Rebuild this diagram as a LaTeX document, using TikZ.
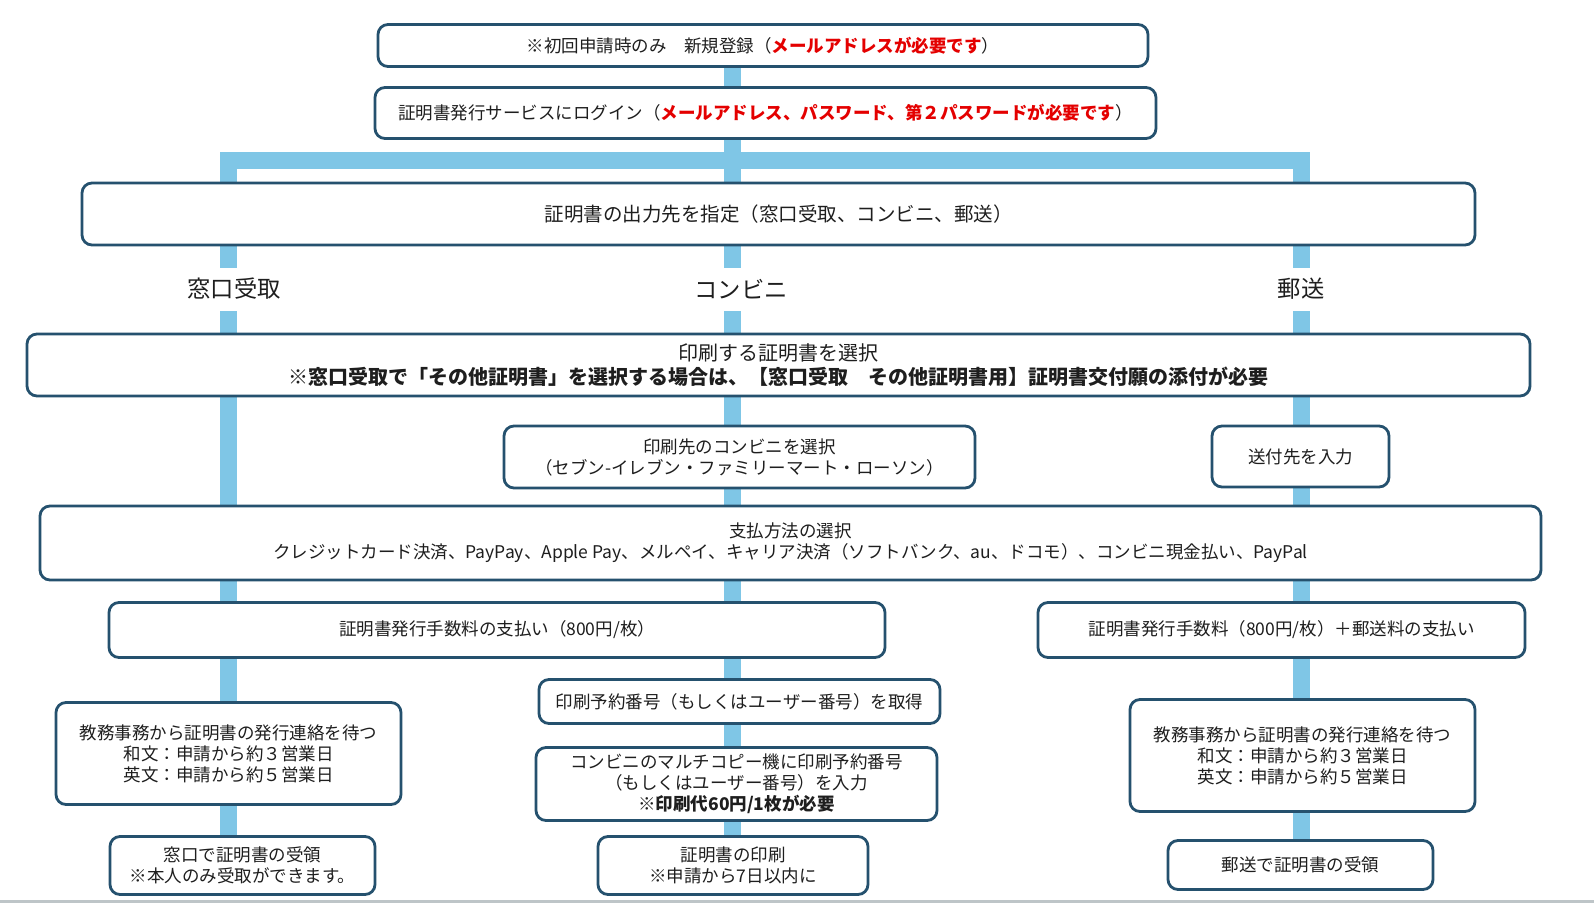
\documentclass[tikz,border=0pt]{standalone}
\usepackage{fontspec}
\setmainfont{Noto Sans CJK JP}
\usetikzlibrary{backgrounds}
\definecolor{boxc}{RGB}{37,81,110}
\definecolor{linec}{RGB}{127,198,230}
\definecolor{redc}{RGB}{228,0,0}
\definecolor{txt}{RGB}{30,30,30}
\definecolor{rulec}{RGB}{190,197,200}
\begin{document}
\begin{tikzpicture}[x=1pt,y=-1pt,
  box/.style={draw=boxc, line width=2.8pt, rounded corners=10pt, fill=white, inner sep=0pt, align=center, text=txt, font=\fontsize{17.5}{21}\selectfont},
  conn/.style={draw=linec, line width=17pt},
  lab/.style={fill=white, inner xsep=4pt, inner ysep=0pt, minimum height=43pt, text=txt, font=\fontsize{23.3}{26}\selectfont}]
\useasboundingbox (0,0) rectangle (1594,903);

% column coordinates
\coordinate (cL) at (228,160);
\coordinate (cM) at (732,160);
\coordinate (cR) at (1301,160);

% boxes
\node[box, minimum width=770pt, minimum height=42pt] (reg) at (763,45.5)
  {※初回申請時のみ　新規登録（{\color{redc}\bfseries メールアドレスが必要です}）};
\node[box, minimum width=781pt, minimum height=51pt] (login) at (765.5,113)
  {証明書発行サービスにログイン（{\color{redc}\bfseries メールアドレス、パスワード、第２パスワードが必要です}）};
\node[box, minimum width=1393pt, minimum height=62pt, font=\fontsize{19.5}{23}\selectfont] (dest) at (778.5,214)
  {証明書の出力先を指定（窓口受取、コンビニ、郵送）};

\node[lab] (labL) at (234,289) {窓口受取};
\node[lab] (labM) at (741,289) {コンビニ};
\node[lab] (labR) at (1301,289) {郵送};

\node[box, minimum width=1503pt, minimum height=62pt, font=\fontsize{20}{24}\selectfont] (select) at (778.5,365)
  {印刷する証明書を選択\\\bfseries ※窓口受取で「その他証明書」を選択する場合は、【窓口受取　その他証明書用】証明書交付願の添付が必要};

\node[box, minimum width=471pt, minimum height=62pt] (konbini) at (739.5,457)
  {印刷先のコンビニを選択\\（セブン-イレブン・ファミリーマート・ローソン）};
\node[box, minimum width=177pt, minimum height=61pt] (addr) at (1300.5,456.5)
  {送付先を入力};

\node[box, minimum width=1501pt, minimum height=74pt] (pay) at (790.5,543)
  {支払方法の選択\\クレジットカード決済、PayPay、Apple Pay、メルペイ、キャリア決済（ソフトバンク、au、ドコモ）、コンビニ現金払い、PayPal};

\node[box, minimum width=776pt, minimum height=55pt] (feeL) at (497,630)
  {証明書発行手数料の支払い（800円/枚）};
\node[box, minimum width=487pt, minimum height=55pt] (feeR) at (1281.5,630)
  {証明書発行手数料（800円/枚）＋郵送料の支払い};

\node[box, minimum width=401pt, minimum height=44pt] (resno) at (739.5,701.5)
  {印刷予約番号（もしくはユーザー番号）を取得};
\node[box, minimum width=345pt, minimum height=102pt] (waitL) at (228.5,753.5)
  {教務事務から証明書の発行連絡を待つ\\和文：申請から約３営業日\\英文：申請から約５営業日};
\node[box, minimum width=345pt, minimum height=112pt] (waitR) at (1302.5,755.5)
  {教務事務から証明書の発行連絡を待つ\\和文：申請から約３営業日\\英文：申請から約５営業日};
\node[box, minimum width=401pt, minimum height=73pt] (multi) at (736.5,784)
  {コンビニのマルチコピー機に印刷予約番号\\（もしくはユーザー番号）を入力\\{\bfseries ※印刷代60円/1枚が必要}};

\node[box, minimum width=265pt, minimum height=58pt] (recvL) at (242.5,865.5)
  {窓口で証明書の受領\\※本人のみ受取ができます。};
\node[box, minimum width=270pt, minimum height=58pt] (printc) at (733,865.5)
  {証明書の印刷\\※申請から7日以内に};
\node[box, minimum width=265pt, minimum height=49pt] (recvR) at (1300.5,865)
  {郵送で証明書の受領};

% background and connectors behind boxes
\begin{scope}[on background layer]
  \fill[white] (0,0) rectangle (1594,903);
  \fill[rulec] (0,899.5) rectangle (1594,903);
  \draw[conn, line join=miter] (recvL.north -| cL) -- (cL) -- (cR) -- (recvR.north -| cR);
  \draw[conn] (reg.south -| cM) -- (printc.north -| cM);
\end{scope}
\end{tikzpicture}
\end{document}
